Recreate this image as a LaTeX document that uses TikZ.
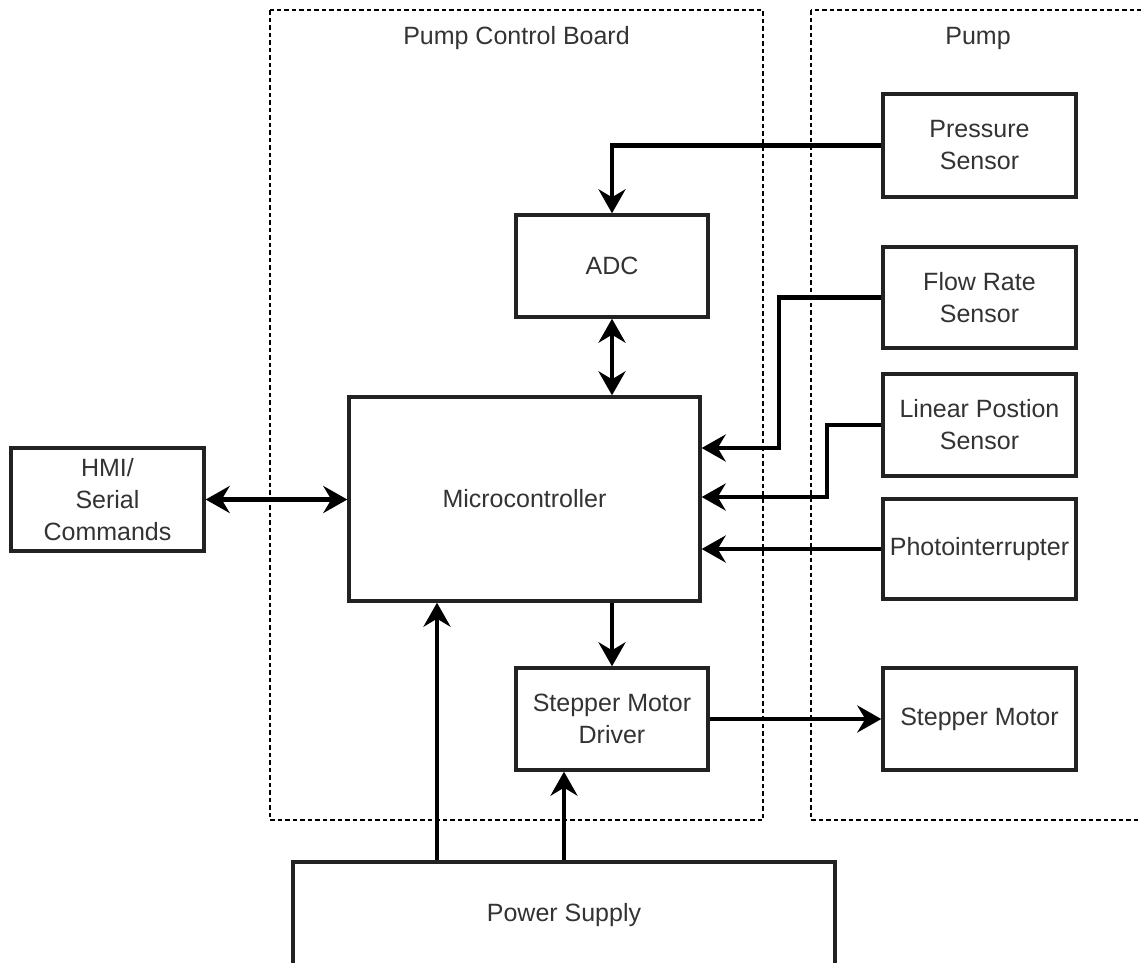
\documentclass[tikz,border=0pt]{standalone}
\usepackage{fontspec}
\setmainfont{Liberation Sans}
\usetikzlibrary{arrows.meta,calc}
\definecolor{txt}{HTML}{333333}
\definecolor{edge}{HTML}{222222}
\begin{document}
\begin{tikzpicture}[x=1pt,y=-1pt,
  blk/.style={draw=edge, line width=3.4pt, fill=white, inner sep=0pt, align=center,
    text=txt, font=\fontsize{25}{32}\selectfont},
  tipa/.tip={Stealth[length=24pt,width=27pt,inset=8pt]},
  conn/.style={line width=4.8pt, -tipa},
  biconn/.style={line width=4.8pt, tipa-tipa},
  groupbox/.style={draw=black, line width=1.3pt, dash pattern=on 4.5pt off 3pt},
  grouptitle/.style={text=txt, font=\fontsize{25}{32}\selectfont, inner sep=0pt, anchor=base}
]
\useasboundingbox (0,0) rectangle (1141,962);
\clip (0,0) rectangle (1141,962);

% groups
\draw[groupbox] (270,10) rectangle (763,820);
\draw[groupbox] (811,10) rectangle (1145,820);
\node[grouptitle] (tpcb) at (516.5,44) {Pump Control Board};
\node[grouptitle] (tpump) at (978,44) {Pump};

% blocks
\node[blk, minimum width=193pt, minimum height=103pt] (press) at (979.5,145.5) {Pressure\\Sensor};
\node[blk, minimum width=192pt, minimum height=102pt] (adc) at (612,266) {ADC};
\node[blk, minimum width=193pt, minimum height=101pt] (flow) at (979.5,297.5) {Flow Rate\\Sensor};
\node[blk, minimum width=351pt, minimum height=204pt] (mcu) at (524.5,499) {Microcontroller};
\node[blk, minimum width=193pt, minimum height=102pt] (lin) at (979.5,425) {Linear Postion\\Sensor};
\node[blk, minimum width=193pt, minimum height=100pt] (photo) at (979.5,549) {Photointerrupter};
\node[blk, minimum width=193pt, minimum height=103pt] (hmi) at (107.5,499.5) {HMI/\\Serial\\Commands};
\node[blk, minimum width=192pt, minimum height=102pt] (smd) at (612,719) {Stepper Motor\\Driver};
\node[blk, minimum width=193pt, minimum height=102pt] (motor) at (979.5,719) {Stepper Motor};
\node[blk, minimum width=542pt, minimum height=106pt] (ps) at (564,915) {Power Supply};

% helper coordinates
\coordinate (f1) at (779,448);
\coordinate (l1) at (827,497);
\coordinate (p1) at (437,0);

% connectors
\draw[conn] (press.west) -| (adc.north);
\draw[biconn] (adc.south) -- (adc.south |- mcu.north);
\draw[conn] (flow.west) -| (f1) -- (f1 -| mcu.east);
\draw[conn] (lin.west) -| (l1) -- (l1 -| mcu.east);
\draw[conn] (photo.west) -- (photo.west -| mcu.east);
\draw[biconn] (hmi.east) -- (hmi.east -| mcu.west);
\draw[conn] (smd.north |- mcu.south) -- (smd.north);
\draw[conn] (smd.east) -- (smd.east -| motor.west);
\draw[conn] (p1 |- ps.north) -- (p1 |- mcu.south);
\draw[conn] (ps.north) -- (ps.north |- smd.south);
\end{tikzpicture}
\end{document}
